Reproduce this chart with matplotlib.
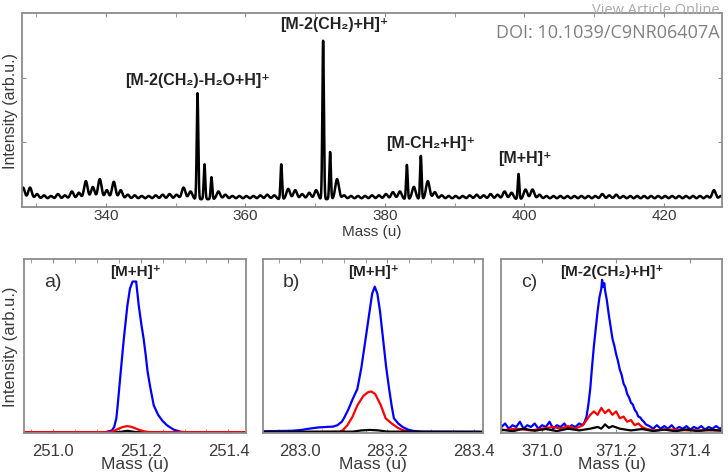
import numpy as np
import matplotlib
matplotlib.use("Agg")
import matplotlib.pyplot as plt

plt.rcParams['font.family'] = ['Liberation Sans', 'DejaVu Sans']

# top spectrum: peak height at each nominal mass (peaks sit at mass + 0.15)
top_mass = list(range(328, 429))
top_height = [
    0.30, 0.30, 0.20, 0.18, 0.17, 0.20, 0.18, 0.24, 0.22, 0.40,   # 328-337
    0.31, 0.43, 0.26, 0.39, 0.26, 0.19, 0.18, 0.17, 0.17, 0.18,   # 338-347
    0.19, 0.20, 0.19, 0.30, 0.24, 1.76, 0.66, 0.46, 0.24, 0.19,   # 348-357
    0.17, 0.17, 0.17, 0.17, 0.18, 0.19, 0.18, 0.66, 0.28, 0.26,   # 358-367
    0.20, 0.22, 0.26, 2.57, 0.85, 0.43, 0.18, 0.17, 0.17, 0.17,   # 368-377
    0.18, 0.18, 0.20, 0.23, 0.24, 0.65, 0.31, 0.79, 0.40, 0.23,   # 378-387
    0.18, 0.17, 0.17, 0.17, 0.18, 0.19, 0.18, 0.20, 0.19, 0.24,   # 388-397
    0.22, 0.51, 0.27, 0.27, 0.19, 0.17, 0.17, 0.17, 0.17, 0.17,   # 398-407
    0.17, 0.17, 0.17, 0.20, 0.18, 0.19, 0.17, 0.17, 0.17, 0.17,   # 408-417
    0.17, 0.17, 0.17, 0.17, 0.17, 0.17, 0.17, 0.17, 0.17, 0.26,   # 418-427
    0.17,                                                         # 428
]
top_base = 0.12

top_labels = [
    '[M-2(CH₂)-H₂O+H]⁺',
    '[M-2(CH₂)+H]⁺',
    '[M-CH₂+H]⁺',
    '[M+H]⁺',
]
top_label_x = [353.2, 372.8, 386.6, 400.1]
top_label_y = [1.97, 2.83, 1.0, 0.77]

# zoomed peaks (mass, intensity)
a_blue_m = [250.935, 251.12, 251.135, 251.14, 251.145, 251.148, 251.155, 251.162, 251.17, 251.176,
            251.182, 251.19, 251.196, 251.202, 251.207, 251.212, 251.216, 251.222, 251.23, 251.24,
            251.25, 251.26, 251.275, 251.29, 251.30, 251.44]
a_blue_i = [0.0, 0.0, 0.01, 0.03, 0.08, 0.155, 0.35, 0.54, 0.73, 0.83,
            0.87, 0.87, 0.73, 0.62, 0.54, 0.44, 0.35, 0.26, 0.155, 0.10,
            0.065, 0.04, 0.015, 0.003, 0.0, 0.0]
a_red_m = [250.935, 251.13, 251.14, 251.15, 251.16, 251.17, 251.18, 251.19, 251.20, 251.21, 251.22, 251.44]
a_red_i = [0.0, 0.0, 0.008, 0.02, 0.03, 0.035, 0.03, 0.02, 0.01, 0.004, 0.0, 0.0]
a_black_m = [250.935, 251.15, 251.17, 251.19, 251.44]
a_black_i = [0.0, 0.0, 0.008, 0.0, 0.0]

b_blue_m = [282.914, 282.98, 283.0, 283.02, 283.04, 283.06, 283.075, 283.085, 283.095, 283.10,
            283.11, 283.12, 283.131, 283.14, 283.15, 283.158, 283.165, 283.171, 283.177, 283.183,
            283.19, 283.197, 283.204, 283.21, 283.215, 283.225, 283.235, 283.247, 283.26, 283.28, 283.42]
b_blue_i = [0.005, 0.008, 0.012, 0.02, 0.027, 0.03, 0.032, 0.04, 0.06, 0.08,
            0.13, 0.19, 0.25, 0.37, 0.54, 0.68, 0.80, 0.84, 0.80, 0.70,
            0.54, 0.38, 0.25, 0.15, 0.08, 0.05, 0.03, 0.015, 0.007, 0.003, 0.002]
b_red_m = [282.914, 283.09, 283.097, 283.108, 283.12, 283.131, 283.145, 283.155, 283.163, 283.172,
           283.185, 283.196, 283.21, 283.224, 283.235, 283.247, 283.26, 283.42]
b_red_i = [0.0, 0.002, 0.01, 0.04, 0.09, 0.155, 0.21, 0.23, 0.235, 0.22,
           0.155, 0.08, 0.05, 0.025, 0.012, 0.005, 0.0, 0.0]
b_black_m = [282.914, 283.12, 283.14, 283.16, 283.18, 283.20, 283.42]
b_black_i = [0.002, 0.003, 0.01, 0.013, 0.01, 0.003, 0.002]

c_blue_m = [370.89, 370.90, 370.91, 370.92, 370.93, 370.94, 370.95, 370.96, 370.97, 370.98,
            370.99, 371.00, 371.01, 371.02, 371.03, 371.04, 371.05, 371.06, 371.07, 371.08,
            371.09, 371.10, 371.11, 371.115, 371.12, 371.125, 371.13, 371.135, 371.14, 371.145,
            371.15, 371.155, 371.16, 371.162, 371.165, 371.168, 371.17, 371.175, 371.18, 371.185,
            371.19, 371.195, 371.20, 371.205, 371.21, 371.215, 371.22, 371.225, 371.23, 371.235,
            371.24, 371.245, 371.25, 371.255, 371.26, 371.265, 371.27, 371.275, 371.28, 371.29,
            371.30, 371.31, 371.32, 371.33, 371.34, 371.35, 371.36, 371.37, 371.38, 371.39,
            371.40, 371.41, 371.42, 371.43, 371.44, 371.45, 371.46, 371.47, 371.48, 371.49]
c_blue_i = [0.03, 0.05, 0.02, 0.04, 0.03, 0.06, 0.02, 0.04, 0.03, 0.05,
            0.02, 0.04, 0.03, 0.06, 0.02, 0.04, 0.03, 0.05, 0.02, 0.04,
            0.03, 0.05, 0.04, 0.06, 0.09, 0.16, 0.25, 0.38, 0.50, 0.60,
            0.70, 0.78, 0.83, 0.88, 0.84, 0.86, 0.82, 0.76, 0.68, 0.61,
            0.54, 0.50, 0.45, 0.41, 0.36, 0.33, 0.28, 0.26, 0.22, 0.20,
            0.17, 0.16, 0.13, 0.115, 0.09, 0.085, 0.07, 0.06, 0.045, 0.035,
            0.02, 0.04, 0.02, 0.035, 0.02, 0.04, 0.015, 0.03, 0.02, 0.035,
            0.015, 0.03, 0.02, 0.035, 0.015, 0.03, 0.02, 0.035, 0.02, 0.03]
c_red_m = [370.89, 370.93, 370.97, 371.00, 371.03, 371.05, 371.07, 371.09, 371.11, 371.12,
           371.13, 371.14, 371.15, 371.16, 371.17, 371.18, 371.19, 371.20, 371.21, 371.22,
           371.23, 371.24, 371.25, 371.26, 371.27, 371.28, 371.30, 371.34, 371.40, 371.49]
c_red_i = [0.01, 0.02, 0.01, 0.02, 0.03, 0.02, 0.035, 0.02, 0.04, 0.07,
           0.10, 0.12, 0.10, 0.14, 0.11, 0.13, 0.10, 0.12, 0.08, 0.09,
           0.06, 0.07, 0.04, 0.05, 0.03, 0.02, 0.01, 0.015, 0.01, 0.01]
c_black_m = [370.89, 370.92, 370.95, 370.98, 371.01, 371.04, 371.07, 371.10, 371.13, 371.15,
             371.16, 371.17, 371.18, 371.19, 371.21, 371.24, 371.27, 371.30, 371.33, 371.36,
             371.39, 371.42, 371.45, 371.49]
c_black_i = [0.015, 0.005, 0.02, 0.008, 0.018, 0.006, 0.02, 0.01, 0.02, 0.03,
             0.02, 0.045, 0.025, 0.035, 0.02, 0.01, 0.018, 0.006, 0.015, 0.005,
             0.016, 0.006, 0.014, 0.008]

panels = [
    ('a)', '[M+H]⁺', (250.935, 251.44), [251.0, 251.2, 251.4], 0.05,
     [(a_blue_m, a_blue_i, 'blue'), (a_black_m, a_black_i, 'black'), (a_red_m, a_red_i, 'red')]),
    ('b)', '[M+H]⁺', (282.914, 283.42), [283.0, 283.2, 283.4], 0.05,
     [(b_red_m, b_red_i, 'red'), (b_blue_m, b_blue_i, 'blue'), (b_black_m, b_black_i, 'black')]),
    ('c)', '[M-2(CH₂)+H]⁺', (370.889, 371.486), [371.0, 371.2, 371.4], None,
     [(c_blue_m, c_blue_i, 'blue'), (c_red_m, c_red_i, 'red'), (c_black_m, c_black_i, 'black')]),
]
panel_rects = [
    [0.033, 0.0901, 0.305, 0.3648],
    [0.3613, 0.0901, 0.3022, 0.3648],
    [0.6882, 0.0901, 0.3036, 0.3648],
]

spine_col = '#8c8c8c'
text_col = '#3a3a3a'

fig = plt.figure(figsize=(7.28, 4.77), dpi=100)

# top spectrum: small ripples broad, strong peaks narrow
ax = fig.add_axes([0.0302, 0.564, 0.9615, 0.4067])
mz = np.linspace(328, 428.5, 10000)
signal = np.full_like(mz, top_base)
for m, h in zip(top_mass, top_height):
    w = 0.26 if h < 0.45 else 0.11
    signal += (h - top_base) * np.exp(-0.5 * ((mz - (m + 0.15)) / w) ** 2)
ax.plot(mz, signal, color='black', lw=1.8)
ax.set_xlim(328, 428.3)
ax.set_ylim(0, 3)
ax.set_xticks([340, 360, 380, 400, 420])
ax.set_xticks(range(330, 430, 10), minor=True)
ax.set_yticks([1, 2])
ax.set_yticklabels([])
ax.tick_params(which='both', direction='in', top=True, right=True, length=3,
               color=spine_col, labelsize=11, labelcolor=text_col, pad=1)
ax.set_xlabel('Mass (u)', fontsize=11, color=text_col, labelpad=1)
ax.set_ylabel('Intensity (arb.u.)', fontsize=11.5, color=text_col, labelpad=2)
for sp in ax.spines.values():
    sp.set_color(spine_col)
    sp.set_linewidth(1.3)
for lab, x, y in zip(top_labels, top_label_x, top_label_y):
    ax.text(x, y, lab, ha='center', va='center', fontsize=11.5, fontweight='bold', color='#222222')

# zoomed panels
for rect, (tag, title, xl, ticks, minor, curves) in zip(panel_rects, panels):
    pax = fig.add_axes(rect)
    for m, i, col in curves:
        pax.plot(m, i, color=col, lw=1.6)
    pax.set_xlim(*xl)
    pax.set_ylim(-0.005, 1.0)
    pax.set_xticks(ticks)
    pax.set_xticklabels(['%.1f' % t for t in ticks])
    if minor:
        pax.set_xticks(np.arange(ticks[0] - 0.05, xl[1], minor), minor=True)
    pax.set_yticks([])
    pax.tick_params(which='both', direction='in', top=True, length=3,
                    color=spine_col, labelsize=12, labelcolor=text_col)
    pax.tick_params(axis='x', which='major', pad=7)
    pax.set_xlabel('Mass (u)', fontsize=12.5, color=text_col, labelpad=-1)
    for sp in pax.spines.values():
        sp.set_color(spine_col)
        sp.set_linewidth(1.3)
    pax.text(0.09, 0.87, tag, transform=pax.transAxes, fontsize=14, color='#333333',
             ha='left', va='center')
    pax.text(0.5, 0.93, title, transform=pax.transAxes, fontsize=11, fontweight='bold',
             color='#222222', ha='center', va='center')

fig.text(0.015, 0.273, 'Intensity (arb.u.)', rotation=90, fontsize=12, color=text_col,
         ha='center', va='center')

# watermark
fig.text(0.988, 0.978, 'View Article Online', fontsize=10.5, color='#aaaaaa',
         family=['Open Sans', 'DejaVu Sans'], ha='right', va='center')
fig.text(0.988, 0.93, 'DOI: 10.1039/C9NR06407A', fontsize=13, color='#808080',
         family=['Open Sans', 'DejaVu Sans'], ha='right', va='center')

fig.savefig('out.png', dpi=100)
